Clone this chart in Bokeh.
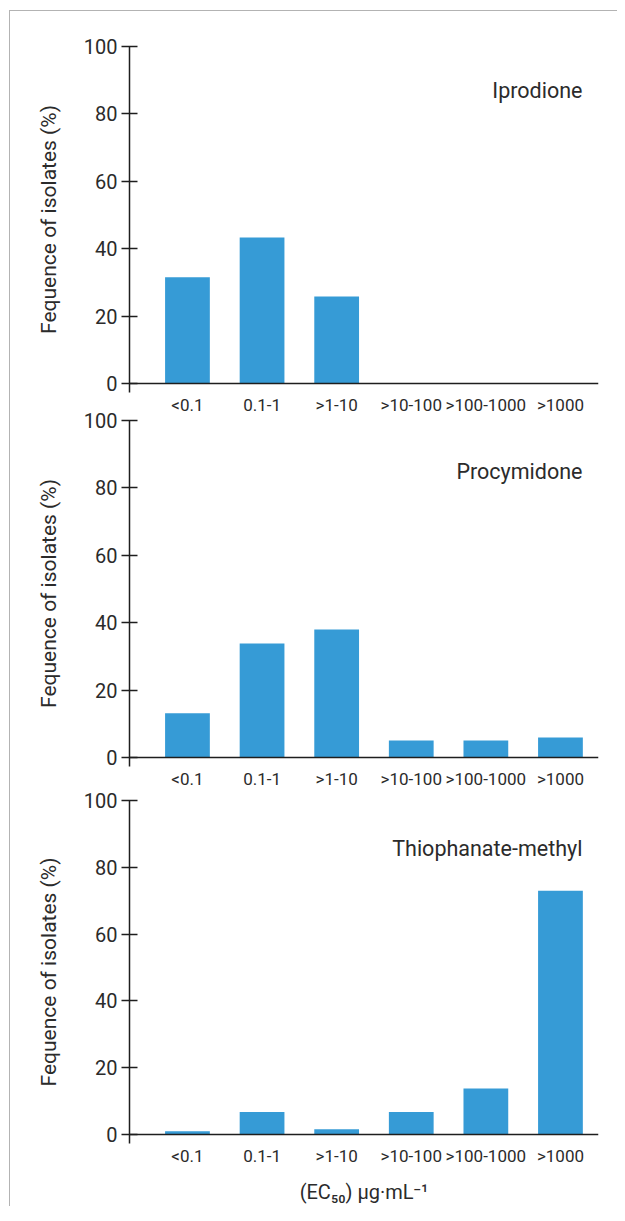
from bokeh.plotting import figure
from bokeh.layouts import column
from bokeh.models import Range1d, FixedTicker, Span, Label, ColumnDataSource
from bokeh.embed import file_html
from bokeh.resources import INLINE

categories = ["<0.1", "0.1-1", ">1-10", ">10-100", ">100-1000", ">1000"]
iprodione = [31.5, 43.3, 25.8, 0, 0, 0]
procymidone = [13.1, 33.8, 38.0, 5.0, 5.0, 5.9]
thiophanate = [1.0, 6.7, 1.6, 6.7, 13.8, 73.0]
panel_names = ["Iprodione", "Procymidone", "Thiophanate-methyl"]
y_ticks = [0, 20, 40, 60, 80, 100]
y_title = "Fequence of isolates (%)"
x_title = "(EC\u2085\u2080) \u00b5g\u00b7mL\u207b\u00b9"

FONT = "Roboto"
TXT = "#2b2b2b"
AX = "#1e1e1e"
BAR = "#369bd6"


def make_panel(values, name, frame_h, top_border, name_y, last=False):
    p = figure(frame_width=469, frame_height=frame_h,
               min_border_left=119, min_border_right=19,
               min_border_top=top_border, min_border_bottom=(4 if last else 0),
               x_range=Range1d(-0.777, 5.51), y_range=Range1d(-2.7, 100),
               output_backend="svg", toolbar_location=None,
               background_fill_color="white", border_fill_color=None)
    p.outline_line_color = None
    p.xgrid.grid_line_color = None
    p.ygrid.grid_line_color = None

    src = ColumnDataSource(dict(x=list(range(len(categories))), top=values))
    p.vbar(x="x", top="top", bottom=0, width=0.6, source=src,
           fill_color=BAR, line_color=None)

    p.add_layout(Span(location=0, dimension="width", line_color=AX, line_width=1.5))

    ya = p.yaxis[0]
    ya.ticker = FixedTicker(ticks=y_ticks)
    ya.minor_tick_line_color = None
    ya.major_tick_in = 8
    ya.major_tick_out = 8
    ya.major_tick_line_color = AX
    ya.major_tick_line_width = 1.5
    ya.axis_line_color = AX
    ya.axis_line_width = 1.5
    ya.major_label_standoff = 4
    ya.major_label_text_font = FONT
    ya.major_label_text_font_size = "20px"
    ya.major_label_text_color = TXT
    ya.axis_label = y_title
    ya.axis_label_text_font = FONT
    ya.axis_label_text_font_size = "21px"
    ya.axis_label_text_font_style = "normal"
    ya.axis_label_text_color = TXT
    ya.axis_label_standoff = 20

    xa = p.xaxis[0]
    xa.ticker = FixedTicker(ticks=list(range(len(categories))))
    xa.major_label_overrides = {i: c for i, c in enumerate(categories)}
    xa.axis_line_color = None
    xa.major_tick_line_color = None
    xa.minor_tick_line_color = None
    xa.major_tick_out = 0
    xa.major_tick_in = 0
    xa.major_label_standoff = 2
    xa.major_label_text_font = FONT
    xa.major_label_text_font_size = "17px"
    xa.major_label_text_color = TXT
    if last:
        xa.axis_label = x_title
        xa.axis_label_text_font = FONT
        xa.axis_label_text_font_size = "20px"
        xa.axis_label_text_font_style = "normal"
        xa.axis_label_text_color = TXT
        xa.axis_label_standoff = 11

    p.add_layout(Label(x=5.295, y=name_y, text=name, text_align="right",
                       text_baseline="middle", text_font=FONT,
                       text_font_size="21.5px", text_color=TXT))
    return p


p1 = make_panel(iprodione, panel_names[0], 346, 35, 87.0)
p2 = make_panel(procymidone, panel_names[1], 346, 16, 85.0)
p3 = make_panel(thiophanate, panel_names[2], 343, 16, 85.6, last=True)
p2.margin = (-13, 0, 0, 0)
p3.margin = (-7, 0, 0, 0)

layout = column(p1, p2, p3, spacing=0, margin=(10, 0, 0, 9),
                styles={"border-left": "1px solid #b3b3b3",
                        "border-top": "1px solid #b3b3b3"})

open("out.html", "w").write(file_html(layout, INLINE))
